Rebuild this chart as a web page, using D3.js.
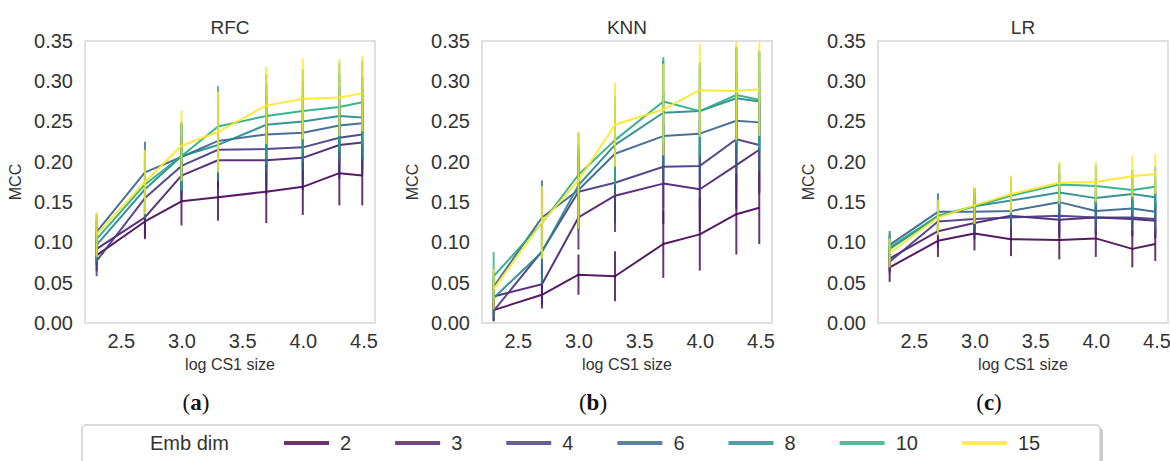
<!DOCTYPE html>
<html>
<head>
<meta charset="utf-8">
<script src="https://cdn.jsdelivr.net/npm/d3@7"></script>
<style>
  html, body { margin: 0; padding: 0; background: #fff; }
  svg { display: block; }
  text { font-family: "Liberation Sans", Arial, sans-serif; fill: #333; }
</style>
</head>
<body>
<svg id="chart" width="1170" height="461"></svg>
<script>
// ---------------- DATA ----------------
const xVals = [2.301, 2.699, 3.0, 3.301, 3.699, 4.0, 4.301, 4.49]; // log CS1 size
const embDims = [2, 3, 4, 6, 8, 10, 15];
const xTicks = [2.5, 3.0, 3.5, 4.0, 4.5];
const yTicks = [0.00, 0.05, 0.10, 0.15, 0.20, 0.25, 0.30, 0.35];
const panelTitles = ["RFC", "KNN", "LR"];
const captions = ["a", "b", "c"];

// mean MCC, one row per embedding dimension (2,3,4,6,8,10,15)
const rfcMean = [
  [0.084, 0.126, 0.151, 0.156, 0.163, 0.169, 0.186, 0.183],
  [0.092, 0.131, 0.183, 0.202, 0.202, 0.205, 0.221, 0.224],
  [0.077, 0.155, 0.195, 0.215, 0.216, 0.218, 0.230, 0.234],
  [0.113, 0.187, 0.206, 0.226, 0.234, 0.236, 0.245, 0.248],
  [0.097, 0.166, 0.207, 0.221, 0.246, 0.250, 0.257, 0.255],
  [0.104, 0.172, 0.207, 0.244, 0.257, 0.263, 0.268, 0.274],
  [0.110, 0.175, 0.220, 0.237, 0.270, 0.278, 0.280, 0.285]
];
const rfcErr = [
  [0.020, 0.022, 0.030, 0.029, 0.039, 0.035, 0.040, 0.037],
  [0.020, 0.025, 0.033, 0.035, 0.042, 0.040, 0.042, 0.040],
  [0.019, 0.028, 0.036, 0.038, 0.045, 0.042, 0.045, 0.043],
  [0.022, 0.038, 0.040, 0.042, 0.048, 0.046, 0.048, 0.046],
  [0.022, 0.036, 0.041, 0.045, 0.050, 0.050, 0.052, 0.050],
  [0.025, 0.038, 0.043, 0.050, 0.052, 0.052, 0.055, 0.052],
  [0.028, 0.040, 0.044, 0.050, 0.048, 0.050, 0.048, 0.047]
];
const knnMean = [
  [0.016, 0.035, 0.060, 0.058, 0.098, 0.110, 0.135, 0.143],
  [0.033, 0.048, 0.131, 0.158, 0.173, 0.166, 0.196, 0.215],
  [0.015, 0.089, 0.163, 0.174, 0.194, 0.195, 0.228, 0.221],
  [0.045, 0.131, 0.165, 0.210, 0.232, 0.235, 0.251, 0.249],
  [0.031, 0.088, 0.171, 0.221, 0.261, 0.263, 0.279, 0.275],
  [0.058, 0.124, 0.184, 0.227, 0.275, 0.263, 0.283, 0.277],
  [0.042, 0.125, 0.177, 0.246, 0.265, 0.289, 0.288, 0.290]
];
const knnErr = [
  [0.014, 0.017, 0.025, 0.031, 0.042, 0.045, 0.050, 0.045],
  [0.016, 0.025, 0.040, 0.045, 0.050, 0.052, 0.055, 0.055],
  [0.012, 0.030, 0.045, 0.050, 0.052, 0.055, 0.058, 0.058],
  [0.018, 0.046, 0.050, 0.052, 0.055, 0.058, 0.060, 0.060],
  [0.025, 0.040, 0.050, 0.052, 0.065, 0.060, 0.062, 0.062],
  [0.030, 0.042, 0.052, 0.055, 0.055, 0.055, 0.060, 0.060],
  [0.025, 0.045, 0.060, 0.052, 0.057, 0.058, 0.061, 0.058]
];
const lrMean = [
  [0.069, 0.102, 0.111, 0.104, 0.103, 0.105, 0.092, 0.098],
  [0.080, 0.114, 0.124, 0.133, 0.128, 0.131, 0.129, 0.127],
  [0.076, 0.126, 0.129, 0.131, 0.133, 0.131, 0.131, 0.129],
  [0.097, 0.138, 0.138, 0.139, 0.150, 0.139, 0.142, 0.138],
  [0.092, 0.132, 0.145, 0.152, 0.162, 0.155, 0.160, 0.156],
  [0.094, 0.133, 0.145, 0.158, 0.172, 0.170, 0.165, 0.169],
  [0.087, 0.131, 0.146, 0.160, 0.174, 0.175, 0.182, 0.185]
];
const lrErr = [
  [0.018, 0.020, 0.021, 0.021, 0.024, 0.023, 0.023, 0.021],
  [0.016, 0.020, 0.020, 0.020, 0.022, 0.022, 0.022, 0.022],
  [0.015, 0.020, 0.020, 0.020, 0.022, 0.022, 0.022, 0.022],
  [0.017, 0.023, 0.022, 0.022, 0.024, 0.024, 0.024, 0.024],
  [0.016, 0.021, 0.022, 0.022, 0.024, 0.024, 0.024, 0.024],
  [0.016, 0.021, 0.022, 0.022, 0.025, 0.025, 0.025, 0.025],
  [0.018, 0.022, 0.023, 0.023, 0.026, 0.025, 0.026, 0.025]
];

const panels = [
  { title: panelTitles[0], caption: captions[0], mean: rfcMean, err: rfcErr },
  { title: panelTitles[1], caption: captions[1], mean: knnMean, err: knnErr },
  { title: panelTitles[2], caption: captions[2], mean: lrMean, err: lrErr }
];

// ---------------- LAYOUT ----------------
const svg = d3.select("#chart");
const panelLeft = [85, 482, 878];
const plotW = 290, plotTop = 41, plotBottom = 323;
const color = d => d3.interpolateViridis((d - 2) / 13);

const y = d3.scaleLinear().domain([0, 0.35]).range([plotBottom, plotTop]);

panels.forEach((p, pi) => {
  const x0 = panelLeft[pi];
  const x = d3.scaleLinear().domain([2.205, 4.595]).range([x0, x0 + plotW]);
  const g = svg.append("g");

  const clipId = "clip" + pi;
  svg.append("clipPath").attr("id", clipId)
    .append("rect").attr("x", x0).attr("y", plotTop)
    .attr("width", plotW).attr("height", plotBottom - plotTop);

  // frame
  g.append("rect")
    .attr("x", x0).attr("y", plotTop)
    .attr("width", plotW).attr("height", plotBottom - plotTop)
    .attr("fill", "#fff").attr("stroke", "#d9d9d9").attr("stroke-width", 1.6);

  // axes (labels only, no tick marks)
  const yAxis = d3.axisLeft(y).tickValues(yTicks).tickFormat(d3.format(".2f")).tickSize(0).tickPadding(12);
  const ya = g.append("g").attr("transform", `translate(${x0},0)`).call(yAxis);
  ya.select(".domain").remove();
  ya.selectAll("text").attr("font-size", 20).attr("fill", "#333")
    .attr("font-family", "Liberation Sans, Arial, sans-serif");

  const xAxis = d3.axisBottom(x).tickValues(xTicks).tickFormat(d3.format(".1f")).tickSize(0).tickPadding(11);
  const xa = g.append("g").attr("transform", `translate(0,${plotBottom})`).call(xAxis);
  xa.select(".domain").remove();
  xa.selectAll("text").attr("font-size", 20).attr("fill", "#333")
    .attr("font-family", "Liberation Sans, Arial, sans-serif");

  // titles & labels
  g.append("text").attr("x", x0 + plotW / 2).attr("y", 34)
    .attr("text-anchor", "middle").attr("font-size", 19).text(p.title);
  g.append("text").attr("x", x0 + plotW / 2).attr("y", 370)
    .attr("text-anchor", "middle").attr("font-size", 16).text("log CS1 size");
  g.append("text")
    .attr("transform", `translate(${x0 - 64},${(plotTop + plotBottom) / 2}) rotate(-90)`)
    .attr("text-anchor", "middle").attr("font-size", 16).text("MCC");

  // caption
  const cap = g.append("text").attr("x", x0 + plotW / 2 - 34).attr("y", 410)
    .attr("text-anchor", "middle").attr("font-size", 23)
    .style("font-family", "'Liberation Serif', 'DejaVu Serif', serif").style("fill", "#111");
  cap.append("tspan").text("(");
  cap.append("tspan").attr("font-weight", "bold").text(p.caption);
  cap.append("tspan").text(")");

  // data
  const data = g.append("g").attr("clip-path", `url(#${clipId})`);
  const line = d3.line().x((d, i) => x(xVals[i])).y(d => y(d));
  embDims.forEach((dim, si) => {
    const c = color(dim);
    data.append("path").datum(p.mean[si])
      .attr("d", line).attr("fill", "none")
      .attr("stroke", c).attr("stroke-width", 2).attr("stroke-opacity", 0.9)
      .attr("stroke-linejoin", "round");
    data.selectAll(null).data(p.mean[si]).enter().append("line")
      .attr("x1", (d, i) => x(xVals[i])).attr("x2", (d, i) => x(xVals[i]))
      .attr("y1", (d, i) => y(d - p.err[si][i]))
      .attr("y2", (d, i) => y(d + p.err[si][i]))
      .attr("stroke", c).attr("stroke-width", 2).attr("stroke-opacity", 0.8);
  });
});

// ---------------- LEGEND ----------------
const lg = svg.append("g");
lg.append("rect").attr("x", 85).attr("y", 428).attr("width", 1018).attr("height", 60)
  .attr("rx", 4).attr("fill", "#c8c8c8");
lg.append("rect").attr("x", 82).attr("y", 425).attr("width", 1018).attr("height", 60)
  .attr("rx", 4).attr("fill", "#fff").attr("stroke", "#cfcfcf").attr("stroke-width", 1.5);
lg.append("text").attr("x", 150).attr("y", 450).attr("font-size", 20).text("Emb dim");

let lx = 284;
embDims.forEach(dim => {
  lg.append("line").attr("x1", lx).attr("x2", lx + 45).attr("y1", 443).attr("y2", 443)
    .attr("stroke", color(dim)).attr("stroke-width", 4).attr("stroke-opacity", 0.8);
  const t = lg.append("text").attr("x", lx + 56).attr("y", 450).attr("font-size", 20).text(dim);
  const w = t.node().getComputedTextLength();
  lx = lx + 56 + w + 44;
});
</script>
</body>
</html>
